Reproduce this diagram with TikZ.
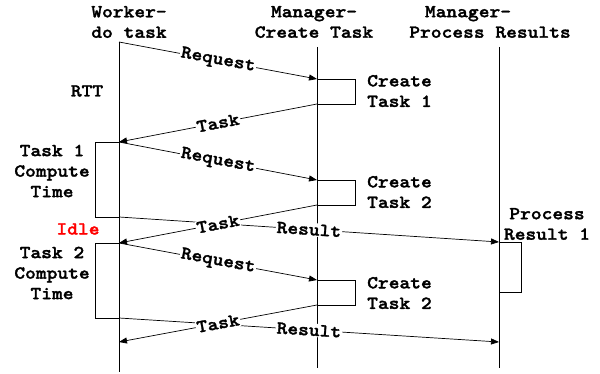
\documentclass[tikz,border=0pt]{standalone}
\usepackage{fontspec}
\newfontfamily\courfont{lmmonolt10-bold.otf}[FakeStretch=1.12,FakeBold=1.6]
\usetikzlibrary{arrows.meta}
\begin{document}
\begin{tikzpicture}[x=1pt,y=-1pt,
  txt/.style={font=\courfont\fontsize{18.3}{20.5}\selectfont, inner sep=0pt, align=center},
  msg/.style={-{Triangle[length=8pt,width=6pt]}, line width=0.7pt},
  lbl/.style={font=\courfont\fontsize{18.3}{20.5}\selectfont, fill=white, inner sep=1pt, sloped, midway},
  life/.style={line width=0.8pt},
  act/.style={line width=0.7pt}]
\useasboundingbox (0,0) rectangle (600,374);

% lifeline ends
\coordinate (wtop) at (119,42);  \coordinate (wbot) at (119,372);
\coordinate (ctop) at (317,47);  \coordinate (cbot) at (317,368);
\coordinate (ptop) at (499,47);  \coordinate (pbot) at (499,368);
% worker events
\coordinate (w1) at (119,142); \coordinate (w2) at (119,217);
\coordinate (w3) at (119,243); \coordinate (w4) at (119,318);
\coordinate (w5) at (119,342);
% task creation events
\coordinate (c1) at (317,79);  \coordinate (c1e) at (317,104);
\coordinate (c2) at (317,180); \coordinate (c2e) at (317,205);
\coordinate (c3) at (317,280); \coordinate (c3e) at (317,305);
% result processing events
\coordinate (p1) at (499,242); \coordinate (p1e) at (499,292);
\coordinate (p2) at (499,342);

% headers
\node[txt] (hw) at (129,22) {Worker-\\do task};
\node[txt] (hc) at (314,22) {Manager-\\Create Task};
\node[txt] (hp) at (490,22) {\mbox{Manager-\hspace{44pt}}\\Process Results};

% lifelines
\draw[life] (wtop) -- (wbot);
\draw[life] (ctop) -- (cbot);
\draw[life] (ptop) -- (pbot);

% first round trip
\draw[msg] (wtop) -- node[lbl] {Request} (c1);
\draw[act] (c1) -- ++(38,0) |- (c1e);
\node[txt, anchor=west, align=left] (ct1) at (367,91) {Create\\Task 1};
\draw[msg] (c1e) -- node[lbl] {Task} (w1);
\node[txt] (rtt) at (87,91) {RTT};

% second round
\draw[msg] (w1) -- node[lbl] {Request} (c2);
\draw[act] (w1) -- ++(-24,0) |- (w2);
\node[txt] (t1) at (52,171) {Task 1\\Compute\\Time};
\draw[act] (c2) -- ++(38,0) |- (c2e);
\node[txt, anchor=west, align=left] (ct2) at (367,192) {Create\\Task 2};
\draw[msg] (w2) -- node[lbl] {Result} (p1);
\draw[msg] (c2e) -- node[lbl] {Task} (w3);
\node[txt, text=red] (idle) at (78,229) {Idle};
\draw[act] (p1) -- ++(22,0) |- (p1e);
\node[txt] (pr1) at (547,224) {Process\\Result 1};

% third round
\draw[msg] (w3) -- node[lbl] {Request} (c3);
\draw[act] (w3) -- ++(-24,0) |- (w4);
\node[txt] (t2) at (52,273) {Task 2\\Compute\\Time};
\draw[act] (c3) -- ++(38,0) |- (c3e);
\node[txt, anchor=west, align=left] (ct3) at (367,293) {Create\\Task 2};
\draw[msg] (w4) -- node[lbl] {Result} (p2);
\draw[msg] (c3e) -- node[lbl] {Task} (w5);
\end{tikzpicture}
\end{document}
